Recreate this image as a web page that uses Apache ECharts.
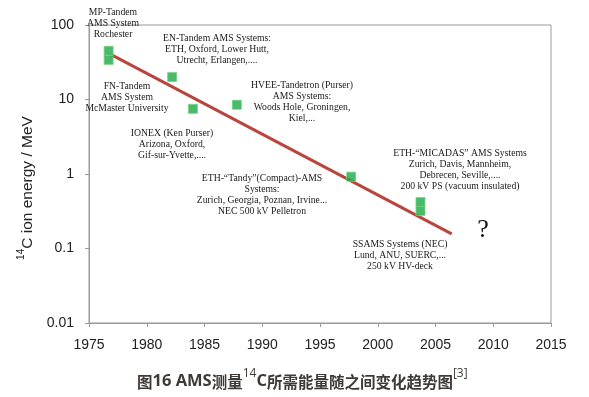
<!DOCTYPE html>
<html>
<head>
<meta charset="utf-8">
<script src="https://cdn.jsdelivr.net/npm/echarts@6/dist/echarts.min.js"></script>
<style>
  html, body { margin: 0; padding: 0; background: #fff; }
  #chart { width: 589px; height: 397px; }
</style>
</head>
<body>
<div id="chart"></div>
<script>
// AMS systems: year of introduction vs. 14C ion energy (MeV)
const years = [1976.7, 1976.7, 1982.2, 1984.0, 1987.8, 1997.7, 2003.7, 2003.7]
const energies = [45, 34, 20, 7.5, 8.5, 0.92, 0.42, 0.32]

// trend line end points
const trendYears = [1977.0, 2006.4]
const trendEnergies = [39.5, 0.157]

const yTicks = [0.01, 0.1, 1, 10, 100]

// annotation texts
const notes = {
  mp: ['MP-Tandem', 'AMS System', 'Rochester'],
  en: ['EN-Tandem AMS Systems:', 'ETH, Oxford, Lower Hutt,', 'Utrecht, Erlangen,....'],
  fn: ['FN-Tandem', 'AMS System', 'McMaster University'],
  hvee: ['HVEE-Tandetron (Purser)', 'AMS Systems:', 'Woods Hole, Groningen,', 'Kiel,...'],
  ionex: ['IONEX (Ken Purser)', 'Arizona, Oxford,', 'Gif-sur-Yvette,....'],
  tandy: ['ETH-\u201cTandy\u201d(Compact)-AMS', 'Systems:', 'Zurich, Georgia, Poznan, Irvine...', 'NEC 500 kV Pelletron'],
  micadas: ['ETH-\u201cMICADAS\u201d AMS Systems', 'Zurich, Davis, Mannheim,', 'Debrecen, Seville,....', '200 kV PS (vacuum insulated)'],
  ssams: ['SSAMS Systems (NEC)', 'Lund, ANU, SUERC,...', '250 kV HV-deck'],
}

const chart = echarts.init(document.getElementById('chart'))

const serif = 'Liberation Serif'
const lh = 11
const titleColor = '#3f3a36'

// 注释文字
function note(lines, cx, cy) {
  return {
    type: 'text',
    x: cx,
    y: cy - lh / 2,
    z: 10,
    style: {
      text: lines.join('\n'),
      fontFamily: serif,
      fontSize: 9.7,
      lineHeight: lh,
      align: 'center',
      verticalAlign: 'top',
      fill: '#1a1a1a',
    },
  }
}

chart.setOption({
  animation: false,
  title: {
    left: 132,
    top: 363,
    text: '{c|图}{l|16 AMS}{c|测量}{s|14}{l|C}{c|所需能量随之间变化趋势图}{s|[3]}',
    textStyle: {
      rich: {
        c: {
          fontFamily: 'Noto Sans CJK SC',
          fontSize: 15.5,
          fontWeight: 'bold',
          color: titleColor,
          lineHeight: 22,
          verticalAlign: 'bottom',
        },
        l: {
          fontFamily: 'Open Sans',
          fontSize: 16.5,
          fontWeight: 'bold',
          color: titleColor,
          lineHeight: 22,
          verticalAlign: 'bottom',
        },
        s: {
          fontFamily: 'Open Sans',
          fontSize: 12,
          fontWeight: 'normal',
          color: titleColor,
          lineHeight: 22,
          verticalAlign: 'top',
        },
      },
    },
  },
  grid: {
    left: 89,
    right: 38,
    top: 25,
    bottom: 74,
    show: true,
    borderColor: '#9a9a9a',
    borderWidth: 1,
  },
  xAxis: {
    type: 'value',
    min: 1975,
    max: 2015,
    interval: 5,
    splitLine: { show: false },
    axisLine: { lineStyle: { color: '#9a9a9a' } },
    axisTick: { length: 4, lineStyle: { color: '#9a9a9a' } },
    axisLabel: {
      margin: 15,
      fontFamily: 'Liberation Sans',
      fontSize: 14,
      color: '#222',
      formatter: v => String(v),
    },
  },
  yAxis: {
    type: 'log',
    logBase: 10,
    min: yTicks[0],
    max: yTicks[yTicks.length - 1],
    splitLine: { show: false },
    minorTick: { show: false },
    axisLine: { show: true, lineStyle: { color: '#9a9a9a' } },
    axisTick: { show: true, length: 4, lineStyle: { color: '#9a9a9a' } },
    axisLabel: {
      margin: 15,
      fontFamily: 'Liberation Sans',
      fontSize: 14,
      color: '#222',
      formatter: v => String(+v.toPrecision(3)),
    },
    name: '{s|14}{n|C ion energy / MeV}',
    nameLocation: 'middle',
    nameGap: 47,
    nameTextStyle: {
      padding: [0, 28, 0, 0],
      rich: {
        n: { fontFamily: 'Liberation Sans', fontSize: 15.5, color: '#222', lineHeight: 20, verticalAlign: 'bottom' },
        s: { fontFamily: 'Liberation Sans', fontSize: 10, color: '#222', lineHeight: 20, verticalAlign: 'top' },
      },
    },
  },
  series: [
    {
      type: 'line',
      data: trendYears.map((y, i) => [y, trendEnergies[i]]),
      symbol: 'none',
      lineStyle: { color: '#b8463f', width: 3 },
      z: 2,
    },
    {
      type: 'scatter',
      data: years.map((y, i) => [y, energies[i]]),
      symbol: 'rect',
      symbolSize: 9,
      itemStyle: { color: '#1ca847', borderColor: '#74d47e', borderWidth: 1 },
      z: 3,
    },
  ],
  graphic: [
    note(notes.mp, 113, 12),
    note(notes.en, 217, 38),
    note(notes.fn, 127, 86),
    note(notes.hvee, 302, 85),
    note(notes.ionex, 172, 133),
    note(notes.tandy, 262, 178),
    note(notes.micadas, 460, 153),
    note(notes.ssams, 400, 244),
    {
      type: 'text',
      x: 483,
      y: 230,
      style: {
        text: '?',
        fontFamily: serif,
        fontSize: 26,
        align: 'center',
        verticalAlign: 'middle',
        fill: '#111',
      },
    },
  ],
})
</script>
</body>
</html>
